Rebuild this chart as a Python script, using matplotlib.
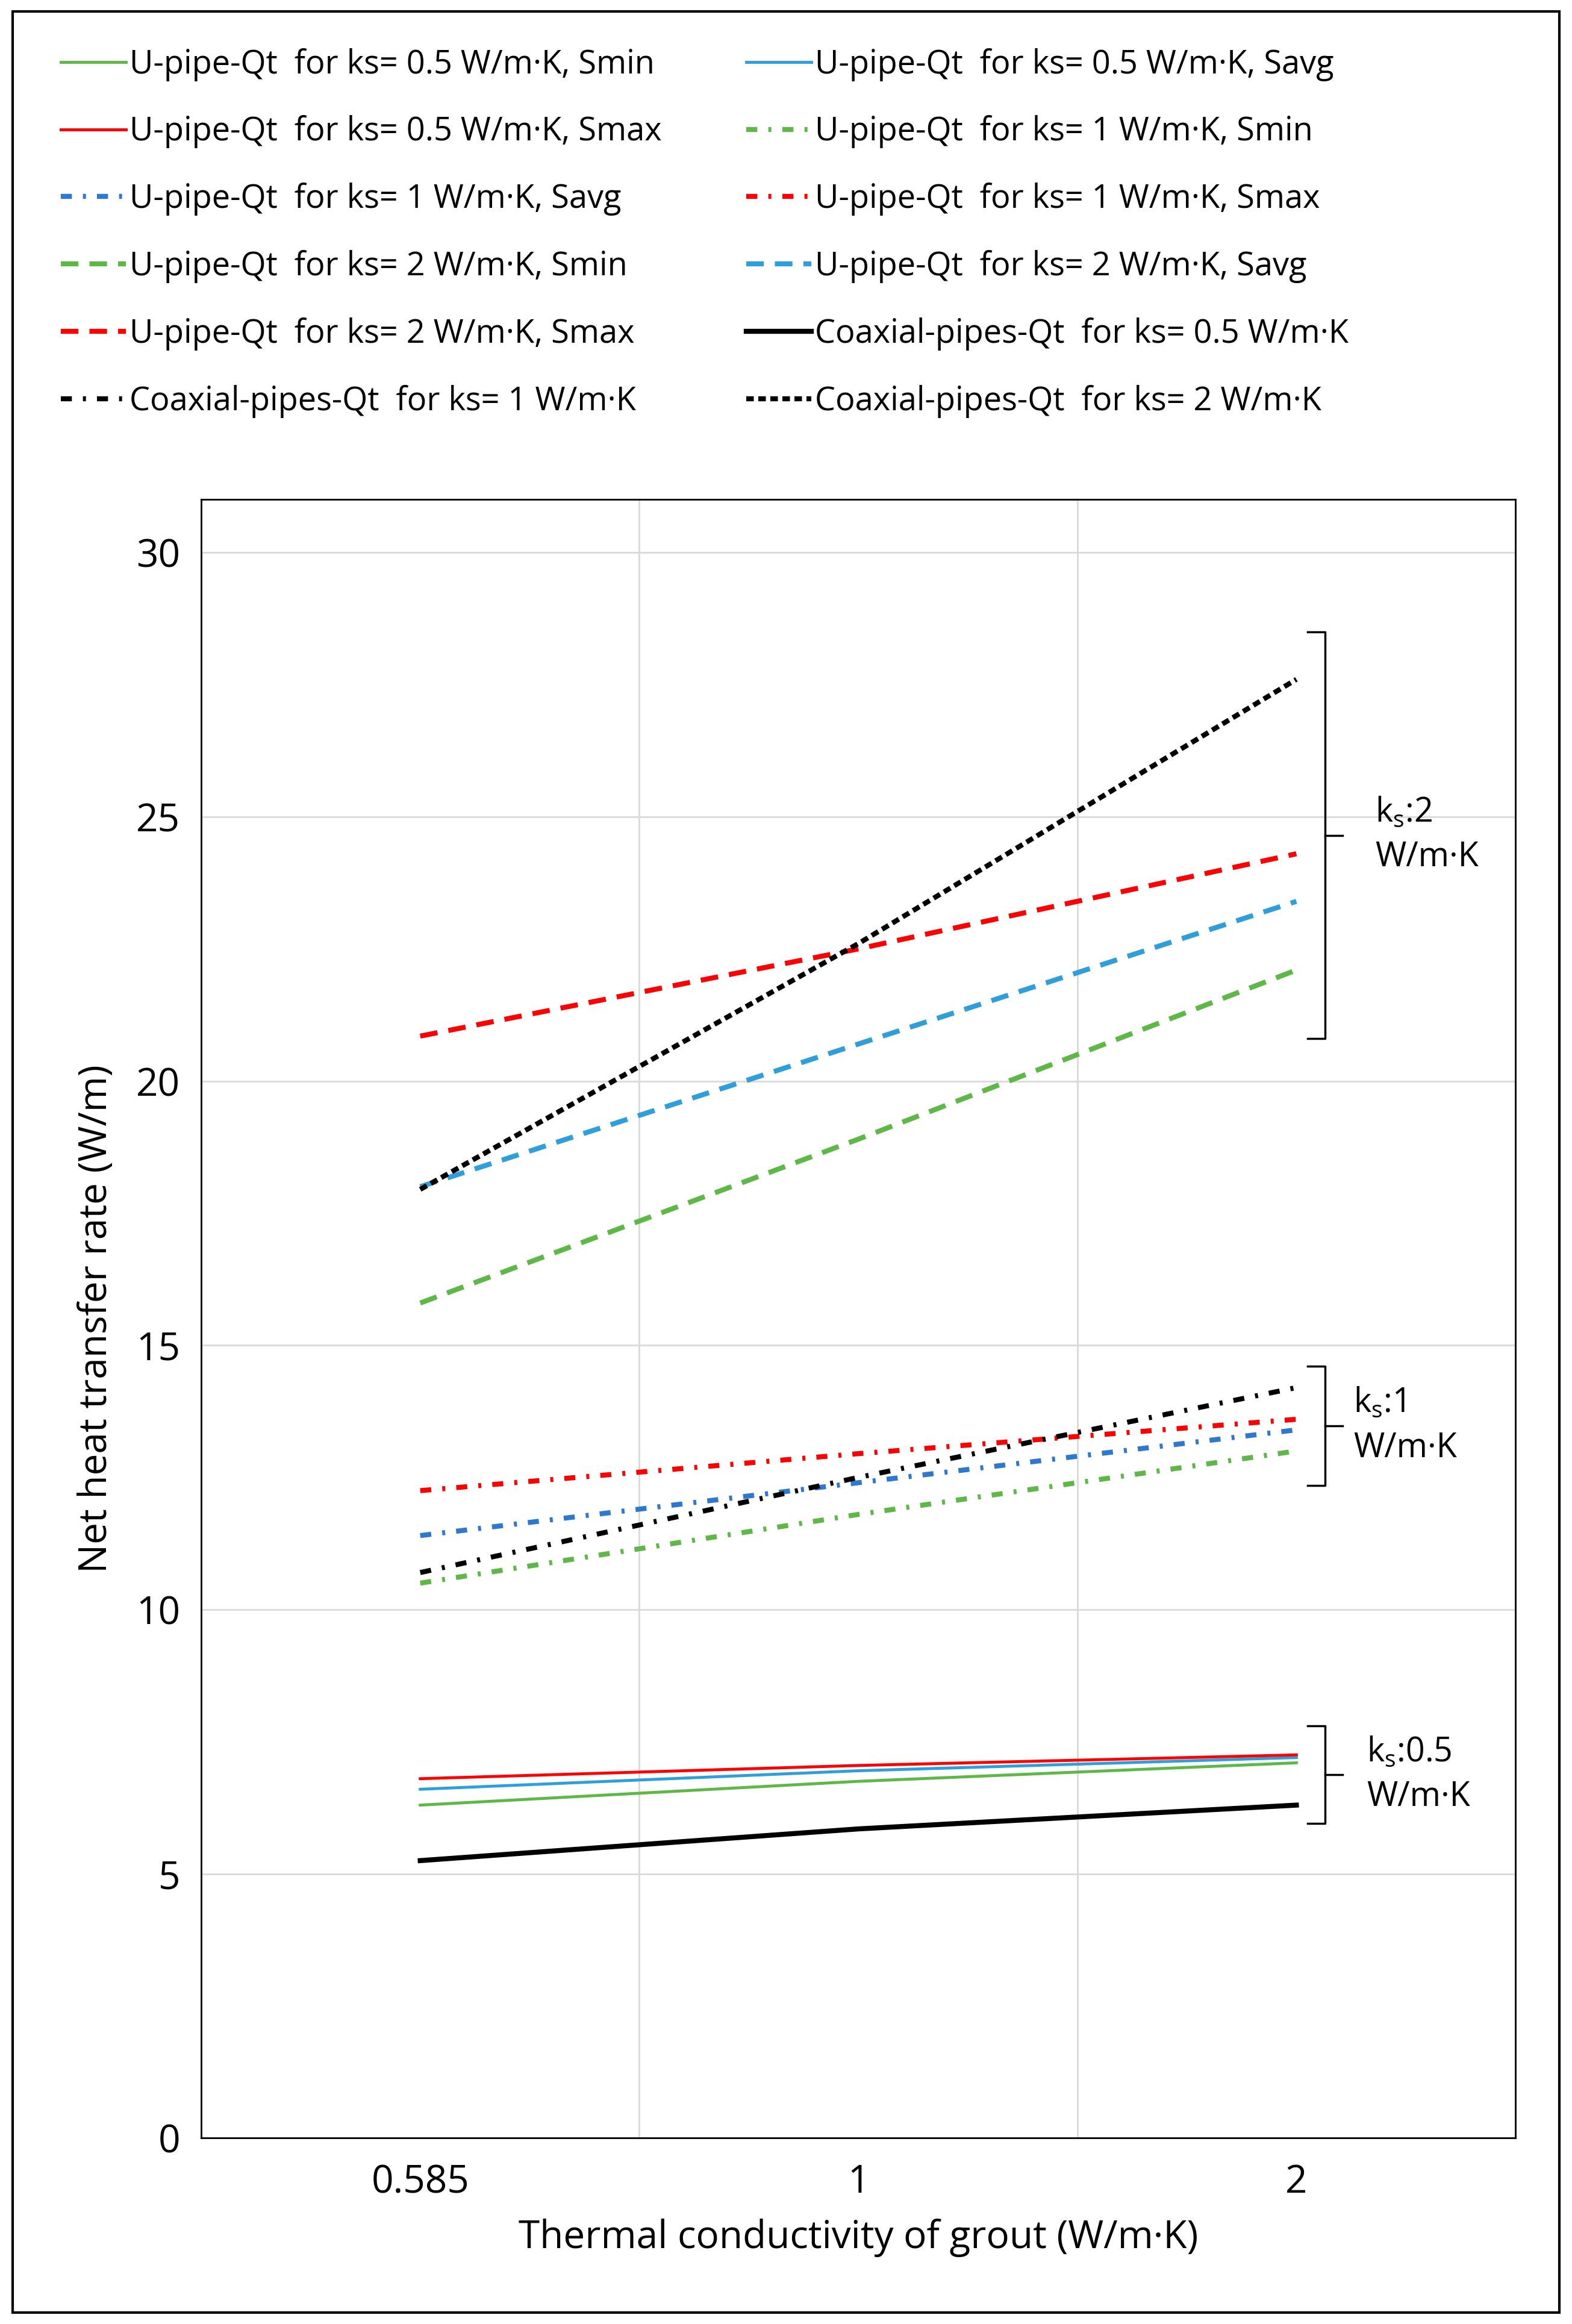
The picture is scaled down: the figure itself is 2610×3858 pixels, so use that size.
import numpy as np
import matplotlib.pyplot as plt

plt.rcParams['font.family'] = 'Open Sans'

categories = ['0.585', '1', '2']

# ks = 0.5 (solid)
u05_smin = [6.3, 6.75, 7.1]
u05_savg = [6.6, 6.95, 7.2]
u05_smax = [6.8, 7.05, 7.25]
coax05 = [5.25, 5.85, 6.3]
# ks = 1 (dash-dot)
u1_smin = [10.5, 11.8, 13.0]
u1_savg = [11.4, 12.4, 13.4]
u1_smax = [12.25, 12.95, 13.6]
coax1 = [10.7, 12.5, 14.2]
# ks = 2 (dashed)
u2_smin = [15.8, 18.9, 22.1]
u2_savg = [18.0, 20.7, 23.4]
u2_smax = [20.85, 22.5, 24.3]
coax2 = [17.95, 22.6, 27.6]

green = '#5DB847'
blue = '#2F9FDC'
blue2 = '#2E78CF'
red = '#FF0000'

dd = (0, (2.2, 2.2, 0.6, 2.2))   # dash-dot
da = (0, (3.5, 2.2))            # dashed
co = (0, (1.5, 0.9))            # short dashes

series = [
    (u05_smin, green, '-', 3.5, 'U-pipe-Qt  for ks= 0.5 W/m·K, Smin'),
    (u05_savg, blue, '-', 3.5, 'U-pipe-Qt  for ks= 0.5 W/m·K, Savg'),
    (u05_smax, red, '-', 3.5, 'U-pipe-Qt  for ks= 0.5 W/m·K, Smax'),
    (u1_smin, green, dd, 6, 'U-pipe-Qt  for ks= 1 W/m·K, Smin'),
    (u1_savg, blue2, dd, 6, 'U-pipe-Qt  for ks= 1 W/m·K, Savg'),
    (u1_smax, red, dd, 6, 'U-pipe-Qt  for ks= 1 W/m·K, Smax'),
    (u2_smin, green, da, 6, 'U-pipe-Qt  for ks= 2 W/m·K, Smin'),
    (u2_savg, blue, da, 6, 'U-pipe-Qt  for ks= 2 W/m·K, Savg'),
    (u2_smax, red, da, 6, 'U-pipe-Qt  for ks= 2 W/m·K, Smax'),
    (coax05, 'black', '-', 6, 'Coaxial-pipes-Qt  for ks= 0.5 W/m·K'),
    (coax1, 'black', dd, 6, 'Coaxial-pipes-Qt  for ks= 1 W/m·K'),
    (coax2, 'black', co, 6, 'Coaxial-pipes-Qt  for ks= 2 W/m·K'),
]

fig = plt.figure(figsize=(26.1, 38.58), dpi=100)
ax = fig.add_axes([0.128, 0.08, 0.836, 0.705])
x = np.arange(len(categories))
handles = []
for vals, c, ls, lw, lab in series:
    ln, = ax.plot(x, vals, color=c, linestyle=ls, linewidth=lw, label=lab)
    handles.append(ln)

ax.set_xlim(-0.5, 2.5)
ax.set_ylim(0, 31)
ax.set_xticks(x)
ax.set_xticklabels(categories)
ax.set_yticks(range(0, 31, 5))
ax.set_xticks([0.5, 1.5], minor=True)
ax.grid(True, which='major', axis='y', color='#D9D9D9', linewidth=2)
ax.grid(True, which='minor', axis='x', color='#D9D9D9', linewidth=2)
ax.tick_params(axis='x', which='both', length=0, labelsize=46, pad=30)
ax.tick_params(axis='y', length=0, labelsize=46, pad=25)
for s in ax.spines.values():
    s.set_color('black')
    s.set_linewidth(2)
ax.set_xlabel('Thermal conductivity of grout (W/m·K)', fontsize=46, labelpad=20)
ax.set_ylabel('Net heat transfer rate (W/m)', fontsize=46, labelpad=25)

# brackets
def bracket(y0, y1, label, tx):
    xb = 2.065
    ax.plot([xb - 0.04, xb, xb, xb - 0.04], [y0, y0, y1, y1], color='black', lw=2.5, clip_on=False)
    ym = (y0 + y1) / 2
    ax.plot([xb, xb + 0.04], [ym, ym], color='black', lw=2.5)
    ax.text(tx, ym, label, fontsize=40, va='center', ha='left', linespacing=1.4)

bracket(20.8, 28.5, 'k$_\\mathregular{s}$:2\nW/m·K', 2.18)
bracket(12.35, 14.6, 'k$_\\mathregular{s}$:1\nW/m·K', 2.13)
bracket(5.95, 7.8, 'k$_\\mathregular{s}$:0.5\nW/m·K', 2.16)

# legend is filled row by row in the reference
order = [0, 2, 4, 6, 8, 10, 1, 3, 5, 7, 9, 11]
fig.legend(handles=[handles[i] for i in order], ncol=2, loc='upper left',
           bbox_to_anchor=(0.02, 0.992), fontsize=39, frameon=False,
           handlelength=2.0, handletextpad=0.1, columnspacing=2.6, labelspacing=1.05)

# outer border
fig.add_artist(plt.Rectangle((0.008, 0.005), 0.984, 0.99, transform=fig.transFigure,
                             fill=False, edgecolor='black', linewidth=3))

fig.savefig('out.png', dpi=100)
